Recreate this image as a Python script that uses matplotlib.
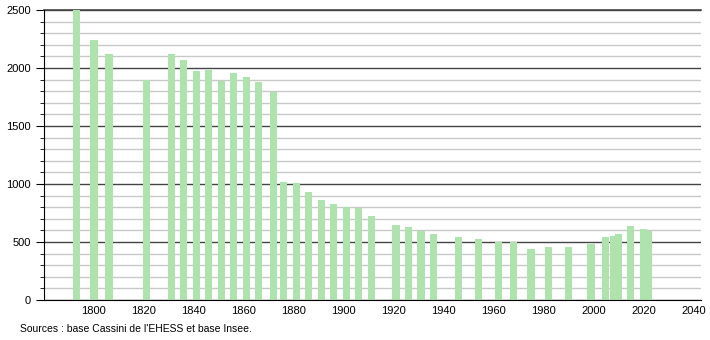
import numpy as np
import matplotlib.pyplot as plt
from matplotlib.ticker import MultipleLocator

plt.rcParams['font.family'] = ['Liberation Sans', 'DejaVu Sans']

years = [1793, 1800, 1806, 1821, 1831, 1836, 1841, 1846, 1851, 1856, 1861, 1866,
         1872, 1876, 1881, 1886, 1891, 1896, 1901, 1906, 1911, 1921, 1926, 1931,
         1936, 1946, 1954, 1962, 1968, 1975, 1982, 1990, 1999, 2005, 2008, 2010,
         2015, 2020, 2022]
population = [2496, 2244, 2123, 1899, 2123, 2066, 1977, 1985, 1885, 1960, 1925, 1882,
              1793, 1014, 1010, 933, 865, 830, 804, 790, 727, 649, 629, 597,
              571, 546, 528, 502, 500, 442, 460, 460, 486, 540, 554, 571,
              634, 614, 592]
xticks = list(range(1800, 2041, 20))
source = "Sources : base Cassini de l'EHESS et base Insee."

fig = plt.figure(figsize=(7.1, 3.4), dpi=100)
ax = fig.add_axes([0.062, 0.1176, 0.925, 0.853])

ax.bar(years, population, width=2.9, color='#aee3ae', zorder=3)

ax.set_xlim(1780, 2043)
ax.set_ylim(0, 2500)
ax.yaxis.set_major_locator(MultipleLocator(500))
ax.yaxis.set_minor_locator(MultipleLocator(100))
ax.grid(axis='y', which='minor', color='#c8c8c8', lw=1, zorder=1)
ax.grid(axis='y', which='major', color='#444444', lw=1, zorder=2)
ax.axhline(2500, color='#444444', lw=1.2, zorder=2, clip_on=False)

ax.set_xticks(xticks)
ax.set_xticklabels([str(x) for x in xticks])
ax.tick_params(axis='x', length=0, labelsize=8, pad=4)
ax.tick_params(axis='y', which='major', length=6, labelsize=8, direction='out')
ax.tick_params(axis='y', which='minor', length=3, direction='out')

for s in ['top', 'right']:
    ax.spines[s].set_visible(False)
ax.spines['left'].set_color('black')
ax.spines['bottom'].set_color('black')
ax.spines['bottom'].set_zorder(4)

fig.text(20 / 710, 1 - 329 / 340, source, fontsize=7.5, va='center', ha='left')

fig.savefig('out.png', dpi=100)
